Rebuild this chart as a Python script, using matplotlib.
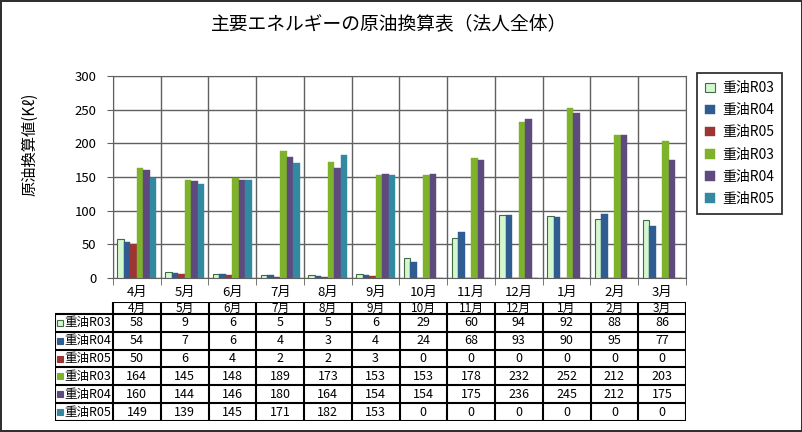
import numpy as np
import matplotlib
matplotlib.use("Agg")
import matplotlib.pyplot as plt

plt.rcParams['font.family'] = ['Noto Sans CJK JP', 'DejaVu Sans']

months = ['4月', '5月', '6月', '7月', '8月', '9月', '10月', '11月', '12月', '1月', '2月', '3月']
labels = ['重油R03', '重油R04', '重油R05', '重油R03', '重油R04', '重油R05']
oil_r03 = [58, 9, 6, 5, 5, 6, 29, 60, 94, 92, 88, 86]
oil_r04 = [54, 7, 6, 4, 3, 4, 24, 68, 93, 90, 95, 77]
oil_r05 = [50, 6, 4, 2, 2, 3, 0, 0, 0, 0, 0, 0]
elec_r03 = [164, 145, 148, 189, 173, 153, 153, 178, 232, 252, 212, 203]
elec_r04 = [160, 144, 146, 180, 164, 154, 154, 175, 236, 245, 212, 175]
elec_r05 = [149, 139, 145, 171, 182, 153, 0, 0, 0, 0, 0, 0]
series = [oil_r03, oil_r04, oil_r05, elec_r03, elec_r04, elec_r05]

faces = ['#D4F7CF', '#2F5D91', '#9E3535', '#7DB22A', '#5E4A7E', '#3389A1']
edges = ['#3F6B45', '#2F5D91', '#9E3535', '#7DB22A', '#5E4A7E', '#3389A1']

W, H = 803, 432
fig = plt.figure(figsize=(W / 100, H / 100), dpi=100, edgecolor='#303030', linewidth=1.5)

# main chart
ax = fig.add_axes([113 / W, 1 - 278 / H, (686 - 113) / W, (278 - 76) / H])
x = np.arange(len(months))
bw = 0.136
handles = []
for i, vals in enumerate(series):
    b = ax.bar(x + (i - 2.5) * bw, vals, bw, color=faces[i], edgecolor=edges[i],
               linewidth=0.8 if i == 0 else 0.3, zorder=3, label=labels[i])
    handles.append(b)

ax.set_xlim(-0.5, len(months) - 0.5)
ax.set_ylim(0, 300)
ax.set_yticks(range(0, 301, 50))
ax.set_xticks(x)
ax.set_xticklabels(months, fontsize=9.5)
ax.set_xticks(np.arange(-0.5, len(months), 1), minor=True)
ax.tick_params(axis='x', which='major', length=0, pad=6)
ax.tick_params(axis='x', which='minor', length=5, color='#606060')
ax.tick_params(axis='y', labelsize=9.5, length=4, color='#606060', pad=8)
ax.grid(axis='y', color='#606060', lw=1, zorder=0)
ax.grid(axis='x', which='minor', color='#606060', lw=1, zorder=0)
for s in ax.spines.values():
    s.set_color('#606060')
ax.set_ylabel('原油換算値(Kℓ)', fontsize=11)
ax.yaxis.set_label_coords(-0.13, 0.66)

fig.text(389 / W, 1 - 24 / H, '主要エネルギーの原油換算表（法人全体）', fontsize=13.5,
         ha='center', va='center')

leg = ax.legend(handles=handles, labels=labels, loc='upper left',
                bbox_to_anchor=(697 / W, 1 - 73 / H), bbox_transform=fig.transFigure,
                fontsize=10, frameon=True, fancybox=False, edgecolor='black',
                handlelength=0.7, handleheight=0.7, handletextpad=0.5,
                labelspacing=0.58, borderpad=0.6, borderaxespad=0)
leg.get_frame().set_linewidth(1.3)

# data table below the chart
tax = fig.add_axes([55 / W, 1 - 421 / H, (686 - 55) / W, (421 - 302) / H])
lab_w = 58 / 47.75
hdr = 0.67
nrow = len(series)
x0 = -0.5 - lab_w
tax.set_xlim(x0, len(months) - 0.5)
tax.set_ylim(hdr + nrow, 0)
tax.axis('off')
lw = 1.5
# horizontal lines
tax.hlines(0, -0.5, len(months) - 0.5, color='black', lw=lw)
for r in range(nrow + 1):
    tax.hlines(hdr + r, x0, len(months) - 0.5, color='black', lw=lw)
# vertical lines
tax.vlines(x0, hdr, hdr + nrow, color='black', lw=lw)
for c in range(len(months) + 1):
    tax.vlines(c - 0.5, 0, hdr + nrow, color='black', lw=lw)
for c, m in enumerate(months):
    tax.text(c, hdr / 2 + 0.03, m, ha='center', va='center', fontsize=8.5)
for r, vals in enumerate(series):
    yc = hdr + r + 0.5
    tax.plot(x0 + 0.11, yc, marker='s', ms=5, mfc=faces[r], mec=edges[r], mew=0.8)
    tax.text(x0 + 0.19, yc, labels[r], ha='left', va='center', fontsize=9)
    for c, v in enumerate(vals):
        tax.text(c, yc, str(v), ha='center', va='center', fontsize=9)

fig.savefig('out.png', dpi=100)
